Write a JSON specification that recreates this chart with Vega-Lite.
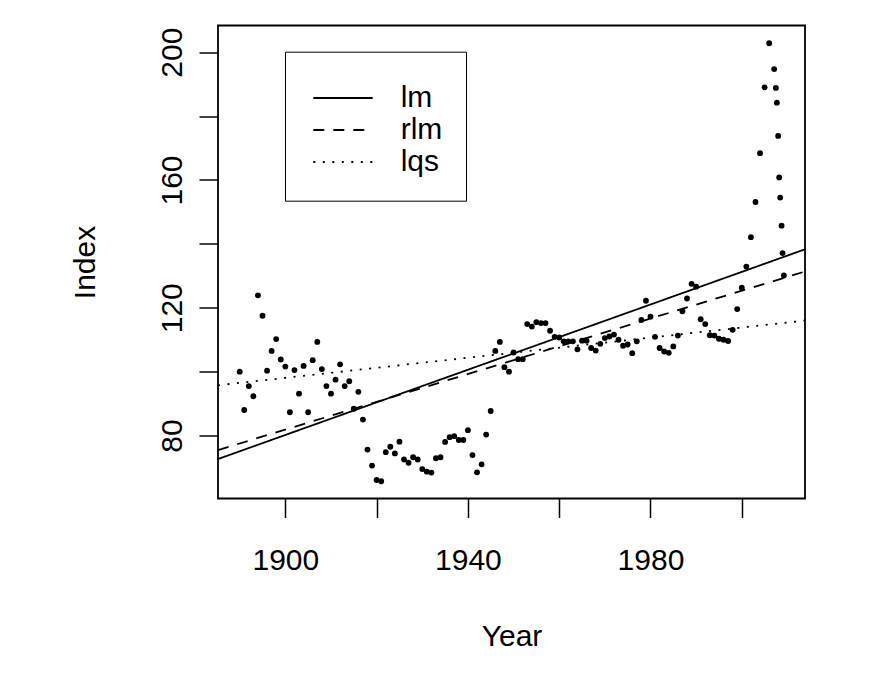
{
  "$schema": "https://vega.github.io/schema/vega-lite/v6.json",
  "width": 587,
  "height": 473,
  "autosize": {"type": "none"},
  "padding": {"left": 218, "top": 25.5, "right": 64, "bottom": 183.5},
  "background": "white",
  "config": {
    "view": {"stroke": "#000", "strokeWidth": 1.8},
    "font": "Liberation Sans",
    "axis": {
      "domain": false,
      "grid": false,
      "tickColor": "#000",
      "tickWidth": 1.5,
      "tickSize": 19,
      "labelColor": "#000",
      "labelFontSize": 30,
      "labelFont": "Liberation Sans",
      "titleFont": "Liberation Sans",
      "titleFontSize": 30,
      "titleColor": "#000",
      "titleFontWeight": "normal",
      "labelOverlap": false,
      "labelFlush": false
    }
  },
  "datasets": {
    "pts": [
      {"year": 1890, "index": 100.0}, {"year": 1891, "index": 88.0}, {"year": 1892, "index": 95.5},
      {"year": 1893, "index": 92.3}, {"year": 1894, "index": 123.9}, {"year": 1895, "index": 117.5},
      {"year": 1896, "index": 100.3}, {"year": 1897, "index": 106.5}, {"year": 1898, "index": 110.2},
      {"year": 1899, "index": 103.8}, {"year": 1900, "index": 101.6}, {"year": 1901, "index": 87.3},
      {"year": 1902, "index": 100.5}, {"year": 1903, "index": 93.1}, {"year": 1904, "index": 101.8},
      {"year": 1905, "index": 87.3}, {"year": 1906, "index": 103.6}, {"year": 1907, "index": 109.3},
      {"year": 1908, "index": 100.8}, {"year": 1909, "index": 95.5}, {"year": 1910, "index": 93.1},
      {"year": 1911, "index": 97.5}, {"year": 1912, "index": 102.3}, {"year": 1913, "index": 95.5},
      {"year": 1914, "index": 97.0}, {"year": 1915, "index": 88.4}, {"year": 1916, "index": 93.7},
      {"year": 1917, "index": 85.0}, {"year": 1918, "index": 75.6}, {"year": 1919, "index": 70.6},
      {"year": 1920, "index": 66.1}, {"year": 1921, "index": 65.7}, {"year": 1922, "index": 74.8},
      {"year": 1923, "index": 76.5}, {"year": 1924, "index": 74.4}, {"year": 1925, "index": 78.1},
      {"year": 1926, "index": 72.5}, {"year": 1927, "index": 71.5}, {"year": 1928, "index": 73.2},
      {"year": 1929, "index": 72.5}, {"year": 1930, "index": 69.5}, {"year": 1931, "index": 68.7},
      {"year": 1932, "index": 68.4}, {"year": 1933, "index": 72.9}, {"year": 1934, "index": 73.2},
      {"year": 1935, "index": 78.0}, {"year": 1936, "index": 79.5}, {"year": 1937, "index": 79.8},
      {"year": 1938, "index": 78.6}, {"year": 1939, "index": 78.6}, {"year": 1940, "index": 81.7},
      {"year": 1941, "index": 73.9}, {"year": 1942, "index": 68.5}, {"year": 1943, "index": 71.0},
      {"year": 1944, "index": 80.3}, {"year": 1945, "index": 87.7}, {"year": 1946, "index": 106.5},
      {"year": 1947, "index": 109.3}, {"year": 1948, "index": 101.4}, {"year": 1949, "index": 100.0},
      {"year": 1950, "index": 106.0}, {"year": 1951, "index": 103.9}, {"year": 1952, "index": 103.9},
      {"year": 1953, "index": 114.9}, {"year": 1954, "index": 114.1}, {"year": 1955, "index": 115.5},
      {"year": 1956, "index": 115.2}, {"year": 1957, "index": 115.2}, {"year": 1958, "index": 112.8},
      {"year": 1959, "index": 110.9}, {"year": 1960, "index": 110.7}, {"year": 1961, "index": 109.5},
      {"year": 1962, "index": 109.5}, {"year": 1963, "index": 109.5}, {"year": 1964, "index": 107.0},
      {"year": 1965, "index": 109.7}, {"year": 1966, "index": 109.7}, {"year": 1967, "index": 107.4},
      {"year": 1968, "index": 106.6}, {"year": 1969, "index": 108.7}, {"year": 1970, "index": 110.5},
      {"year": 1971, "index": 111.0}, {"year": 1972, "index": 111.6}, {"year": 1973, "index": 110.0},
      {"year": 1974, "index": 108.1}, {"year": 1975, "index": 108.5}, {"year": 1976, "index": 105.8},
      {"year": 1977, "index": 109.5}, {"year": 1978, "index": 116.2}, {"year": 1979, "index": 122.2},
      {"year": 1980, "index": 117.2}, {"year": 1981, "index": 110.9}, {"year": 1982, "index": 107.4},
      {"year": 1983, "index": 106.3}, {"year": 1984, "index": 105.9}, {"year": 1985, "index": 107.9},
      {"year": 1986, "index": 111.3}, {"year": 1987, "index": 118.9}, {"year": 1988, "index": 122.9},
      {"year": 1989, "index": 127.5}, {"year": 1990, "index": 126.6}, {"year": 1991, "index": 116.4},
      {"year": 1992, "index": 114.9}, {"year": 1993, "index": 111.4}, {"year": 1994, "index": 111.3},
      {"year": 1995, "index": 110.3}, {"year": 1996, "index": 110.0}, {"year": 1997, "index": 109.6},
      {"year": 1998, "index": 113.1}, {"year": 1999, "index": 119.6}, {"year": 2000, "index": 126.3},
      {"year": 2001, "index": 132.9}, {"year": 2002, "index": 142.1}, {"year": 2003, "index": 153.1},
      {"year": 2004, "index": 168.4}, {"year": 2005, "index": 189.0}, {"year": 2006, "index": 202.8},
      {"year": 2007.1, "index": 194.7}, {"year": 2007.47, "index": 188.8}, {"year": 2007.69, "index": 184.2},
      {"year": 2007.97, "index": 173.8}, {"year": 2008.19, "index": 160.8}, {"year": 2008.41, "index": 154.5},
      {"year": 2008.72, "index": 145.7}, {"year": 2008.93, "index": 137.1}, {"year": 2009.22, "index": 130.1}
    ],
    "fits": [
      {"method": "lm", "year": 1885.25, "index": 72.65},
      {"method": "lm", "year": 2013.85, "index": 138.3},
      {"method": "rlm", "year": 1885.25, "index": 75.46},
      {"method": "rlm", "year": 2013.85, "index": 131.35},
      {"method": "lqs", "year": 1885.25, "index": 95.74},
      {"method": "lqs", "year": 2013.85, "index": 116.0}
    ]
  },
  "layer": [
    {
      "data": {"name": "pts"},
      "mark": {"type": "circle", "color": "#000", "opacity": 1, "size": 34},
      "encoding": {
        "x": {
          "field": "year", "type": "quantitative",
          "scale": {"domain": [1885.25, 2013.85], "nice": false, "zero": false},
          "axis": {
            "title": "Year",
            "values": [1900, 1920, 1940, 1960, 1980, 2000],
            "format": "d",
            "labelExpr": "(datum.value - 1900) % 40 == 0 ? datum.label : ''",
            "labelPadding": 51.5,
            "labelBaseline": "alphabetic",
            "titleY": 147.2,
            "titleBaseline": "alphabetic"
          }
        },
        "y": {
          "field": "index", "type": "quantitative",
          "scale": {"domain": [60.3, 208.35], "nice": false, "zero": false},
          "axis": {
            "title": "Index",
            "values": [80, 100, 120, 140, 160, 180, 200],
            "labelExpr": "datum.value % 40 == 0 ? datum.label : ''",
            "labelAngle": -90,
            "labelAlign": "center",
            "labelBaseline": "alphabetic",
            "labelPadding": 18,
            "titleAngle": -90,
            "titleX": -124,
            "titleBaseline": "alphabetic"
          }
        }
      }
    },
    {
      "data": {"name": "fits"},
      "mark": {"type": "line", "color": "#000", "strokeWidth": 1.8},
      "encoding": {
        "x": {"field": "year", "type": "quantitative"},
        "y": {"field": "index", "type": "quantitative"},
        "strokeDash": {
          "field": "method", "type": "nominal",
          "scale": {"domain": ["lm", "rlm", "lqs"], "range": [[1, 0], [11, 9], [2, 7.5]]},
          "legend": {
            "title": " ",
            "titleFontSize": 5,
            "titlePadding": 2.3,
            "orient": "none",
            "legendX": 67,
            "legendY": 26.2,
            "strokeColor": "#000",
            "fillColor": "#fff",
            "padding": 23,
            "symbolType": "M-2,0H2",
            "symbolSize": 882,
            "symbolStrokeWidth": 1.8,
            "symbolStrokeColor": "#000",
            "symbolOffset": 19,
            "labelOffset": 41.7,
            "labelFontSize": 30,
            "labelFont": "Liberation Sans",
            "labelColor": "#000",
            "rowPadding": 1
          }
        }
      }
    }
  ]
}
